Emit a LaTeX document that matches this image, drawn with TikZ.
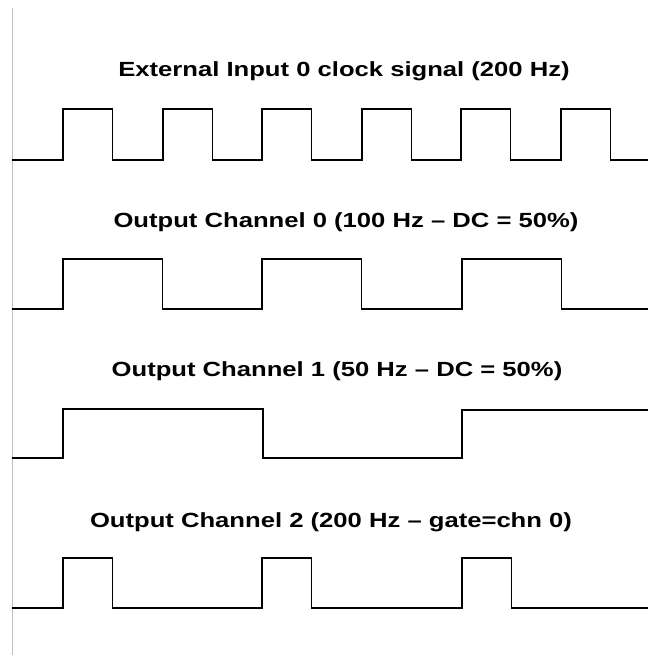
\documentclass[tikz,border=0pt]{standalone}
\usepackage{fontspec}
\setmainfont{Liberation Sans}
\newfontfamily\titlefont[FakeStretch=1.25,Ligatures=TeX]{Liberation Sans}
\usetikzlibrary{positioning}
\tikzset{
  title/.style={font=\titlefont\fontsize{20.5}{24}\selectfont\bfseries,anchor=base,inner sep=0pt},
  wave/.style={line width=1.8pt,line join=miter,black},
  axis/.style={line width=1.6pt,black!25},
}

\begin{document}
\begin{tikzpicture}[x=1pt,y=-1pt]
  \useasboundingbox (0,0) rectangle (649,655);

  % left border line
  \draw[axis] (12.5,8) -- (12.5,655);

  % titles
  \node[title] (clk) at (344,77)  {External Input 0 clock signal (200 Hz)};
  \node[title] (ch0) at (346,227) {Output Channel 0 (100 Hz -- DC = 50\%)};
  \node[title] (ch1) at (337,376) {Output Channel 1 (50 Hz -- DC = 50\%)};
  \node[title] (ch2) at (331,527) {Output Channel 2 (200 Hz -- gate=chn 0)};

  % external clock, 200 Hz
  \draw[wave] (12,160)
    foreach \r in {63,163,262,362,461,561} {
      -- (\r,160) -- (\r,109) -- ({\r+49.5},109) -- ({\r+49.5},160) }
    -- (648,160);

  % channel 0, 100 Hz
  \draw[wave] (12,309)
    foreach \r in {63,262,462} {
      -- (\r,309) -- (\r,259) -- ({\r+99.5},259) -- ({\r+99.5},309) }
    -- (648,309);

  % channel 1, 50 Hz
  \draw[wave] (12,458) -- (63,458) -- (63,409) -- (263,409) -- (263,458)
    -- (462,458) -- (462,410) -- (648,410);

  % channel 2, gated clock
  \draw[wave] (12,608)
    foreach \r in {63,262,462} {
      -- (\r,608) -- (\r,558) -- ({\r+49.5},558) -- ({\r+49.5},608) }
    -- (648,608);
\end{tikzpicture}
\end{document}
